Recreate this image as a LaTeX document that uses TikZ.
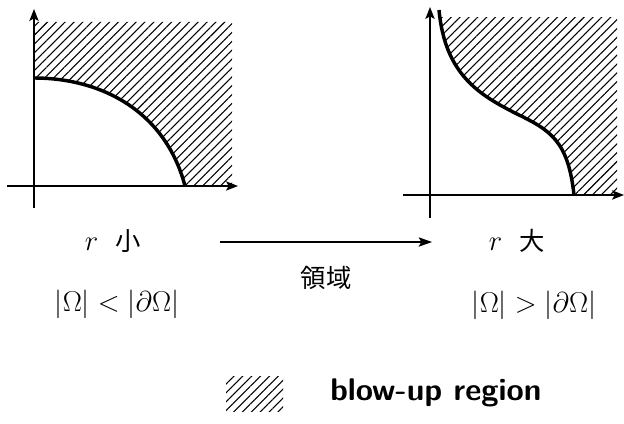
\RequirePackage{fix-cm}
\documentclass[tikz,border=0pt]{standalone}
\usepackage{fontspec}
\newfontfamily\cjk{Noto Sans CJK JP}
\usetikzlibrary{patterns.meta,arrows.meta}
\begin{document}
\begin{tikzpicture}[x=0.75pt,y=-0.75pt,
  hatch/.style={pattern={Lines[angle=45,distance=4.7pt,line width=0.8pt]}},
  curve/.style={line width=2.6pt},
  axis/.style={line width=1pt,-{Stealth[length=9pt,width=7pt,inset=2pt]}},
  lbl/.style={inner sep=0pt,font=\fontsize{19}{23}\selectfont},
  mlbl/.style={inner sep=0pt,font=\fontsize{21.5}{25}\selectfont},
  conn/.style={line width=0.9pt,-{Stealth[length=10pt,width=7pt,inset=2pt]}}]
\useasboundingbox (0,0) rectangle (624,424);
% left plot
\fill[hatch] (34,78) .. controls (100,78) and (165,110) .. (185,186) -- (232,186) -- (232,22) -- (34,22) -- cycle;
\coordinate (lxs) at (7,186);
\coordinate (lxe) at (238,186);
\coordinate (lys) at (34,208);
\coordinate (lye) at (34,9);
\draw[axis] (lxs) -- (lxe);
\draw[axis] (lys) -- (lye);
\coordinate (lc1) at (34,78);
\coordinate (lc2) at (185,186);
\draw[curve] (lc1) .. controls (100,78) and (165,110) .. (lc2);
% right plot
\begin{scope}
\clip (430,18) rectangle (617,195);
\fill[hatch] (439,10) .. controls (445,75) and (480,95) .. (515,113) .. controls (550,130) and (568,140) .. (574,195) -- (617,195) -- (617,10) -- cycle;
\end{scope}
\coordinate (rxs) at (403,195);
\coordinate (rxe) at (624,195);
\coordinate (rys) at (430,218);
\coordinate (rye) at (430,7);
\draw[axis] (rxs) -- (rxe);
\draw[axis] (rys) -- (rye);
\coordinate (rc1) at (439,10);
\coordinate (rcm) at (515,113);
\coordinate (rc2) at (574,195);
\draw[curve] (rc1) .. controls (445,75) and (480,95) .. (rcm) .. controls (550,130) and (568,140) .. (rc2);
% labels
\node[mlbl] (lsmall) at (113,241) {$r$\ \ {\cjk\fontsize{19}{23}\selectfont 小}};
\node[mlbl] (lbig) at (517,241) {$r$\ \ {\cjk\fontsize{19}{23}\selectfont 大}};
\node[mlbl] (lineq) at (117,304) {$|\Omega|<|\partial\Omega|$};
\node[mlbl] (rineq) at (534,305) {$|\Omega|>|\partial\Omega|$};
\coordinate (as) at (220,242);
\coordinate (ae) at (432,242);
\draw[conn] (as) -- (ae);
\node[lbl] (reg) at (326,278) {\cjk 領域};
% legend
\fill[hatch] (226,376) rectangle (283,411);
\node[inner sep=0pt,anchor=west,font=\fontsize{23.5}{27}\selectfont\sffamily\bfseries] (leg) at (330,393) {blow-up region};
\end{tikzpicture}
\end{document}
